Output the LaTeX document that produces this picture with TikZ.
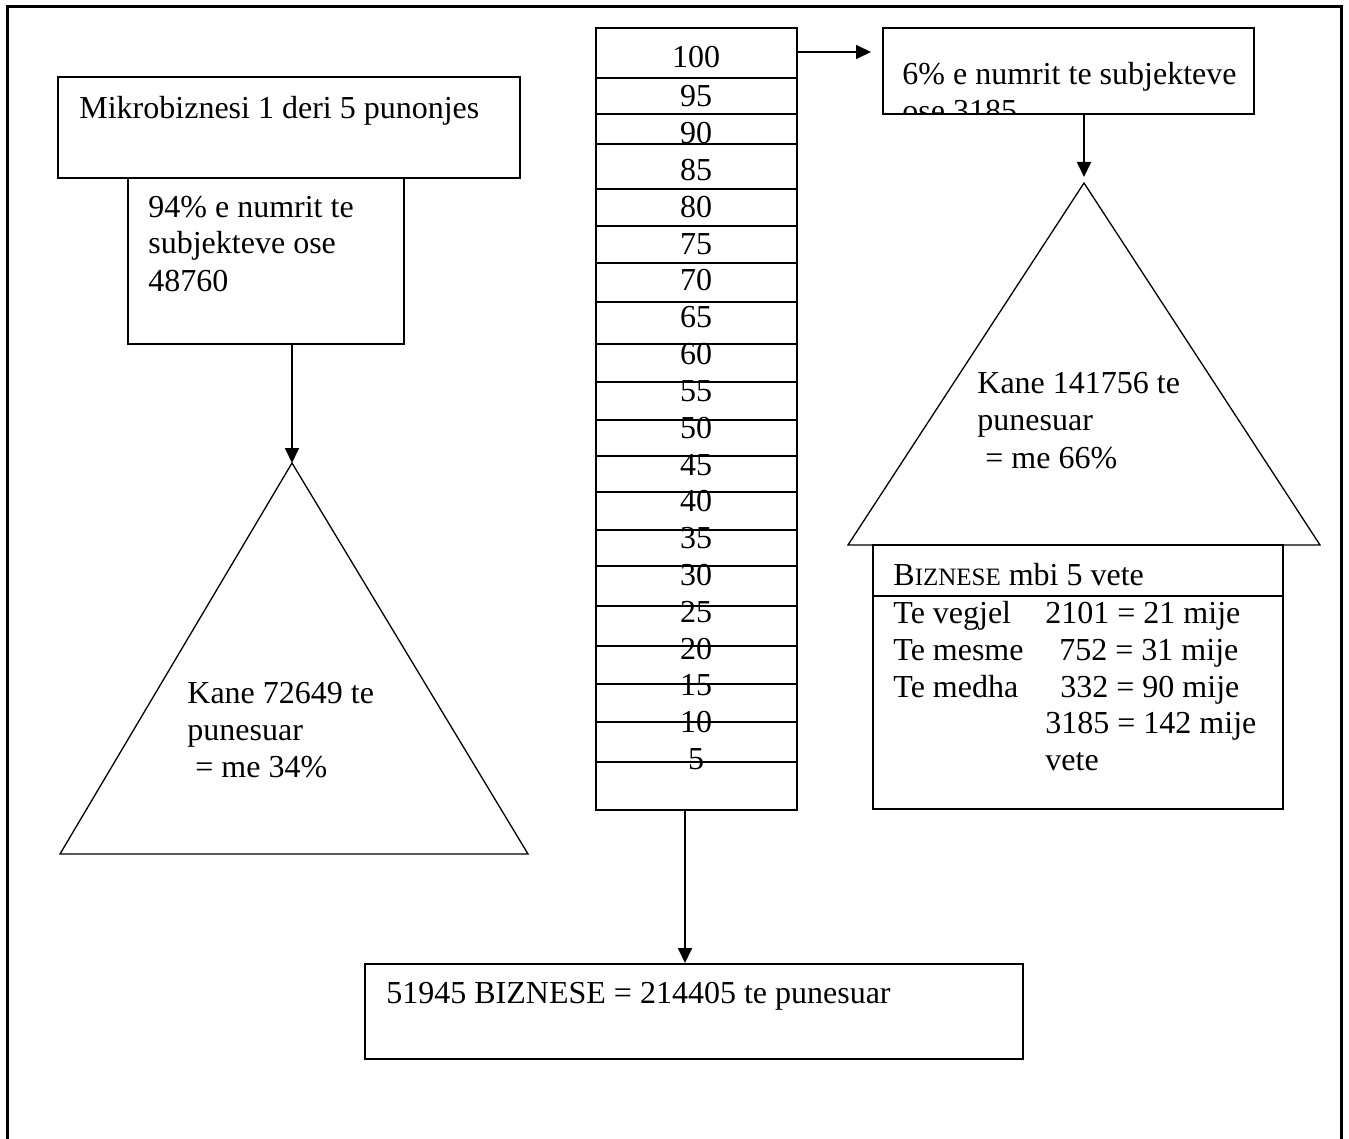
\documentclass[tikz,border=0pt]{standalone}
\usepackage{fontspec}
\setmainfont{Liberation Serif}
\usetikzlibrary{arrows.meta,fit}

\begin{document}
\begin{tikzpicture}[x=0.5pt, y=-0.5pt,
        box/.style={draw, line width=1pt, inner sep=0pt},
        tri/.style={draw, line width=0.65pt},
        rowline/.style={line width=0.8pt},
        txt/.style={anchor=base west, inner sep=0pt, font=\fontsize{16}{18.5}\selectfont},
        num/.style={anchor=base, inner sep=0pt, font=\fontsize{16}{18.5}\selectfont},
        arr/.style={line width=0.9pt, -{Triangle[length=7.5pt, width=7pt]}}]
        \useasboundingbox (0,0) rectangle (1349,1139);
        \draw[line width=1.5pt] (7,1139) -- (7,7) -- (1341,7) -- (1341,1139);

        \node[box, fit={(58,77) (520,178)}] (mikro) {};
        \node[box, fit={(128,178) (404,344)}] (pct94) {};
        \node[box, fit={(596,28) (797,810)}] (col) {};
        \node[box, fit={(883,28) (1254,114)}] (pct6) {};
        \node[box, fit={(873,545) (1283,809)}] (vete) {};
        \node[box, fit={(365,964) (1023,1059)}] (total) {};
        \draw[line width=1pt] (873,596) -- (1283,596);

        \foreach \y in {78,114,144,189,226,263,302,344,382,420,456,492,530,566,606,646,684,722,762}
            \draw[rowline] (596,\y) -- (797,\y);
        \node[num] (n100) at (696,68) {100};
        \foreach \v [count=\i from 0] in {95,90,...,5}
            \node[num] (n\v) at (696,{107+36.8*\i}) {\v};

        \coordinate (topL) at (292,463);
        \coordinate (topR) at (1084,183);
        \draw[tri] (topL) -- (60,854) -- (528,854) -- cycle;
        \draw[tri] (topR) -- (848,545) -- (1320,545) -- cycle;

        \node[txt] (mikrotxt) at (79,119) {Mikrobiznesi 1 deri 5 punonjes};
        \node[txt] (p94a) at (148,218) {94\% e numrit te};
        \node[txt] (p94b) at (148,254) {subjekteve ose};
        \node[txt] (p94c) at (148,292) {48760};

        \node[txt] (kaneL1) at (187,703) {Kane 72649 te};
        \node[txt] (kaneL2) at (187,740) {punesuar};
        \node[txt] (kaneL3) at (195,777) {= me 34\%};

        \begin{scope}
            \clip (883,28) rectangle (1254,114);
            \node[txt] (p6a) at (902,85) {6\% e numrit te subjekteve};
            \node[txt] (p6b) at (902,122) {ose 3185};
        \end{scope}

        \node[txt] (kaneR1) at (977,393) {Kane 141756 te};
        \node[txt] (kaneR2) at (977,430) {punesuar};
        \node[txt] (kaneR3) at (985,468) {= me 66\%};

        \node[txt] (vhead) at (893,585) {B{\fontsize{12.5}{14}\selectfont IZNESE} mbi 5 vete};
        \node[txt] (vegjel) at (893,623) {Te vegjel};
        \node[txt] (mesme) at (893,660) {Te mesme};
        \node[txt] (medha) at (893,697) {Te medha};
        \node[txt] (vegjelnr) at (1045,623) {2101 = 21 mije};
        \node[txt] (mesmenr) at (1059,660) {752 = 31 mije};
        \node[txt] (medhanr) at (1060,697) {332 = 90 mije};
        \node[txt] (sumnr) at (1045,733) {3185 = 142 mije};
        \node[txt] (sumvete) at (1045,770) {vete};

        \node[txt] (totaltxt) at (386,1003) {51945 BIZNESE = 214405 te punesuar};

        \draw[arr] (pct94.south -| topL) -- (topL);
        \draw[arr, shorten >=3pt] (pct6.south -| topR) -- (topR);
        \coordinate (from100) at (797,52);
        \draw[arr, shorten >=5.5pt] (from100) -- (from100 -| pct6.west);
        \coordinate (fromcol) at (685,810);
        \draw[arr] (fromcol) -- (fromcol |- total.north);
\end{tikzpicture}
\end{document}
